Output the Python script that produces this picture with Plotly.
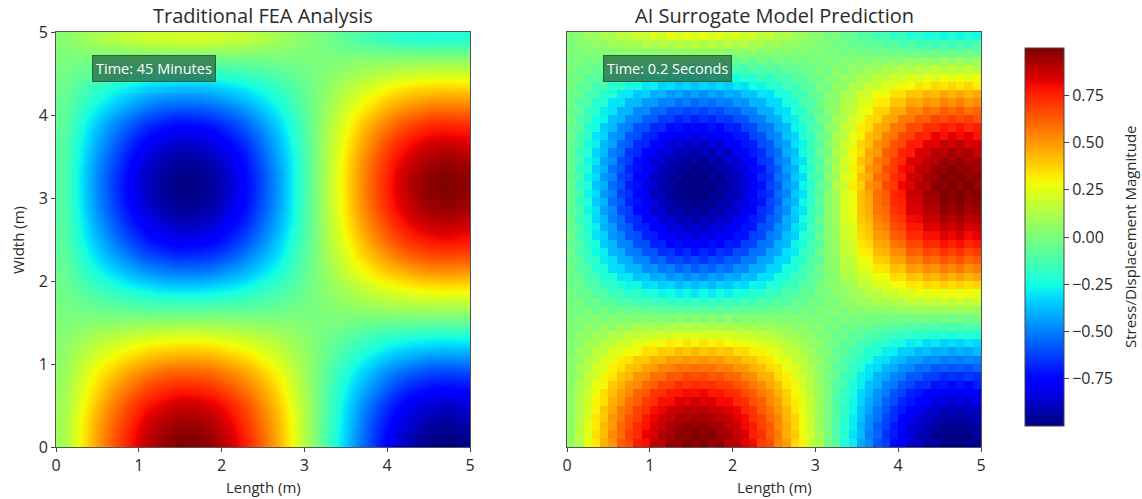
import plotly.graph_objects as go

# Cell centres (m): the FEA table is read at 0.2 m spacing, the AI table at 0.1 m
length_fea = [0.1,0.3,0.5,0.7,0.9,1.1,1.3,1.5,1.7,1.9,2.1,2.3,2.5,2.7,2.9,3.1,3.3,3.5,3.7,3.9,4.1,4.3,4.5,4.7,4.9]
width_fea = list(length_fea)
length_ai = [0.05,0.15,0.25,0.35,0.45,0.55,0.65,0.75,0.85,0.95,1.05,1.15,1.25,1.35,1.45,1.55,1.65,1.75,1.85,1.95,2.05,2.15,2.25,2.35,2.45,
             2.55,2.65,2.75,2.85,2.95,3.05,3.15,3.25,3.35,3.45,3.55,3.65,3.75,3.85,3.95,4.05,4.15,4.25,4.35,4.45,4.55,4.65,4.75,4.85,4.95]
width_ai = list(length_ai)

# Values in hundredths; rows run upward from width 0
fea_values = [
[10,30,48,64,78,89,96,100,99,95,86,75,60,43,24,4,-16,-35,-53,-69,-82,-92,-98,-100,-98],
[10,29,46,61,74,85,91,95,94,90,82,71,57,41,23,4,-15,-33,-50,-66,-78,-87,-93,-95,-93],
[9,26,42,56,69,78,84,88,87,84,76,66,53,38,21,4,-14,-31,-47,-61,-72,-81,-86,-88,-86],
[8,23,36,49,59,68,73,76,75,72,65,57,46,33,18,3,-12,-27,-40,-52,-62,-70,-74,-76,-74],
[6,19,30,40,48,55,60,62,61,59,53,47,37,27,15,2,-10,-22,-33,-43,-51,-57,-61,-62,-61],
[5,14,22,29,35,40,43,45,45,43,39,34,27,19,11,2,-7,-16,-24,-31,-37,-41,-44,-45,-44],
[3,8,13,17,21,24,26,27,27,26,23,20,16,12,6,1,-4,-9,-14,-19,-22,-25,-26,-27,-26],
[1,2,3,4,5,6,7,7,7,7,6,5,4,3,2,0,-1,-2,-4,-5,-6,-6,-7,-7,-7],
[-1,-4,-6,-8,-10,-12,-12,-13,-13,-12,-11,-10,-8,-6,-3,-1,2,5,7,9,11,12,13,13,13],
[-3,-10,-15,-20,-25,-28,-31,-32,-32,-30,-28,-24,-19,-14,-8,-1,5,11,17,22,26,29,31,32,31],
[-5,-15,-24,-32,-39,-45,-48,-50,-50,-48,-43,-38,-30,-22,-12,-2,8,18,27,35,41,46,49,50,49],
[-7,-20,-32,-43,-52,-60,-64,-67,-66,-64,-58,-50,-40,-29,-16,-3,11,23,36,46,55,62,66,67,66],
[-8,-24,-38,-51,-62,-71,-77,-80,-79,-76,-69,-60,-48,-34,-19,-3,13,28,42,55,66,74,78,80,78],
[-9,-27,-43,-58,-70,-80,-86,-90,-89,-86,-77,-68,-54,-39,-22,-4,14,32,48,62,74,83,88,90,88],
[-10,-29,-47,-62,-76,-86,-93,-97,-96,-92,-83,-73,-58,-42,-23,-4,16,34,51,67,80,89,95,97,95],
[-10,-30,-48,-64,-78,-89,-96,-100,-99,-95,-86,-75,-60,-43,-24,-4,16,35,53,69,82,92,98,100,98],
[-10,-30,-48,-63,-77,-88,-95,-99,-98,-94,-85,-74,-59,-43,-24,-4,16,35,52,68,81,91,97,99,97],
[-9,-28,-45,-60,-73,-84,-90,-94,-93,-89,-81,-71,-56,-40,-23,-4,15,33,50,65,77,86,92,94,92],
[-9,-26,-41,-54,-66,-76,-82,-85,-84,-81,-73,-64,-51,-37,-20,-3,14,30,45,59,70,78,83,85,83],
[-7,-22,-35,-47,-57,-65,-70,-73,-72,-69,-63,-55,-44,-31,-18,-3,12,26,39,50,60,67,72,73,72],
[-6,-17,-27,-36,-44,-51,-55,-57,-56,-54,-49,-43,-34,-25,-14,-2,9,20,30,39,47,52,56,57,56],
[-4,-12,-19,-26,-31,-36,-38,-40,-40,-38,-34,-30,-24,-17,-10,-2,6,14,21,28,33,37,39,40,39],
[-2,-6,-10,-13,-16,-19,-20,-21,-21,-20,-18,-16,-13,-9,-5,-1,3,7,11,14,17,19,21,21,21],
[0,0,0,-1,-1,-1,-1,-1,-1,-1,-1,-1,-1,0,0,0,0,0,1,1,1,1,1,1,1],
[3,7,11,14,17,19,20,21,21,20,18,16,13,9,5,1,-3,-8,-12,-15,-18,-20,-21,-21,-21],
]

ai_values = [
[6,13,27,32,45,50,63,66,77,79,89,89,97,96,100,98,100,96,98,91,91,82,80,69,66,54,49,36,31,17,11,-3,-9,-23,-28,-42,-47,-59,-63,-74,-77,-87,-88,-95,-95,-100,-98,-100,-97,-99],
[4,16,24,35,42,53,59,69,73,82,85,92,93,98,97,100,98,99,94,93,87,85,76,72,62,57,45,39,27,20,8,0,-12,-20,-31,-38,-50,-55,-66,-70,-80,-83,-90,-91,-97,-97,-99,-98,-99,-95],
[6,14,25,32,43,49,60,65,74,78,85,87,93,94,97,96,98,94,94,89,87,80,77,68,63,53,46,36,29,17,9,-2,-10,-22,-28,-40,-47,-57,-62,-71,-76,-84,-86,-92,-93,-97,-96,-98,-95,-95],
[3,15,22,33,39,50,56,65,69,77,81,87,88,93,92,95,93,93,89,88,83,80,72,68,59,54,43,37,26,19,7,0,-11,-19,-29,-36,-47,-52,-62,-66,-75,-79,-86,-86,-92,-92,-95,-93,-94,-90],
[5,12,23,30,40,46,56,60,69,72,79,81,87,87,90,89,91,87,87,83,81,75,71,63,58,50,43,33,27,16,9,-2,-9,-20,-26,-37,-43,-52,-58,-66,-70,-78,-80,-85,-86,-91,-89,-92,-88,-89],
[3,14,20,30,35,45,50,59,62,70,72,79,79,85,82,87,83,85,80,80,74,73,65,62,53,49,39,33,24,17,7,0,-10,-17,-26,-33,-42,-47,-56,-60,-68,-71,-78,-77,-84,-82,-87,-83,-86,-81],
[5,11,21,26,35,41,49,53,61,64,71,72,77,77,80,79,81,77,78,73,72,66,63,56,52,44,38,30,24,14,8,-2,-8,-18,-23,-33,-38,-47,-51,-59,-62,-69,-71,-76,-76,-81,-79,-82,-78,-79],
[2,12,17,26,30,39,43,51,53,60,62,68,68,73,71,74,72,73,69,69,64,62,56,53,46,42,33,29,20,15,6,0,-9,-14,-23,-28,-37,-40,-49,-51,-59,-61,-67,-66,-72,-71,-74,-71,-74,-69],
[4,9,18,21,30,33,41,43,51,52,59,58,64,63,67,65,67,63,65,60,60,54,53,45,44,36,32,24,20,12,7,-2,-6,-15,-19,-28,-31,-39,-42,-49,-51,-58,-58,-63,-63,-67,-65,-67,-64,-66],
[2,10,13,21,24,31,34,41,42,48,49,54,54,58,56,59,57,58,54,55,50,50,44,42,36,34,26,23,16,12,4,0,-7,-11,-18,-22,-30,-32,-39,-41,-47,-48,-54,-53,-58,-56,-59,-57,-59,-55],
[4,6,14,16,23,25,32,33,39,39,45,44,49,48,51,49,51,48,50,45,46,41,40,35,33,27,25,18,16,9,6,-2,-4,-12,-14,-21,-23,-30,-31,-37,-38,-44,-44,-48,-47,-51,-49,-51,-48,-50],
[1,7,9,15,16,23,24,29,29,35,34,39,37,42,39,43,39,42,38,40,35,36,31,31,25,24,18,17,11,9,3,1,-6,-8,-14,-15,-22,-22,-28,-28,-34,-34,-39,-37,-41,-39,-43,-40,-42,-38],
[3,3,10,9,15,15,21,20,26,24,30,27,32,30,34,30,34,30,33,28,30,25,27,21,22,17,16,11,10,5,4,-2,-2,-8,-8,-14,-14,-20,-19,-25,-24,-29,-27,-32,-29,-34,-31,-34,-30,-33],
[-1,5,4,9,8,13,12,17,15,19,18,21,20,23,21,24,21,23,20,22,19,20,16,17,13,14,9,10,5,6,1,1,-4,-3,-8,-7,-12,-11,-16,-14,-19,-17,-21,-19,-23,-20,-24,-21,-23,-20],
[2,0,5,2,7,4,9,6,11,8,12,10,13,11,14,11,14,11,13,10,12,9,11,7,9,5,7,3,5,1,3,-2,0,-4,-2,-6,-4,-8,-6,-10,-8,-12,-9,-13,-10,-14,-11,-14,-10,-13],
[-1,2,-1,3,-1,3,0,3,0,3,0,3,0,4,0,4,0,4,0,4,0,3,0,3,0,3,0,3,-1,2,-1,1,-2,1,-2,1,-2,0,-3,0,-3,0,-3,0,-3,0,-4,0,-4,0],
[1,-3,0,-5,-1,-6,-3,-7,-4,-8,-5,-9,-6,-9,-6,-10,-6,-9,-6,-9,-5,-8,-5,-7,-3,-6,-2,-5,0,-3,1,-1,2,0,4,1,5,3,6,4,8,5,9,6,9,6,10,6,9,6],
[-3,-1,-6,-4,-9,-8,-12,-11,-15,-13,-17,-15,-19,-16,-20,-16,-20,-16,-19,-15,-18,-13,-16,-11,-13,-8,-10,-5,-7,-2,-3,2,0,5,4,9,7,12,10,14,13,17,15,19,16,20,16,20,16,19],
[0,-6,-5,-11,-10,-16,-15,-21,-19,-24,-22,-27,-25,-29,-26,-30,-26,-29,-25,-28,-23,-25,-20,-21,-16,-17,-11,-12,-6,-7,-1,-1,4,4,10,9,15,14,20,18,24,22,27,24,29,26,30,26,29,25],
[-3,-4,-11,-11,-18,-18,-24,-27,-26,-32,-30,-35,-33,-38,-35,-38,-35,-38,-34,-36,-31,-33,-27,-28,-22,-22,-16,-16,-9,-9,-2,2,3,9,10,16,17,23,23,28,28,33,32,36,35,38,35,38,35,37],
[-4,-5,-14,-14,-22,-22,-30,-29,-37,-35,-42,-40,-46,-43,-48,-44,-48,-43,-46,-41,-43,-37,-38,-31,-31,-24,-24,-15,-15,-7,-6,2,3,12,12,20,21,28,28,35,34,41,39,45,43,48,44,48,44,47],
[-1,-10,-12,-21,-22,-31,-32,-39,-39,-47,-46,-52,-50,-56,-52,-57,-53,-56,-51,-53,-47,-48,-41,-41,-33,-33,-24,-23,-14,-12,-3,3,4,14,15,24,25,33,34,42,41,49,48,53,51,56,53,57,52,55],
[-5,-7,-18,-19,-29,-31,-40,-41,-49,-49,-57,-55,-62,-60,-64,-61,-65,-60,-62,-57,-58,-51,-51,-43,-42,-33,-32,-22,-20,-10,-8,3,5,15,17,27,29,38,39,47,48,56,55,61,59,64,61,65,60,63],
[-2,-13,-16,-26,-28,-38,-41,-50,-51,-59,-59,-66,-65,-71,-67,-72,-68,-71,-65,-67,-60,-61,-53,-52,-43,-41,-31,-29,-18,-15,-4,3,6,17,19,30,32,42,44,52,53,62,61,67,66,71,68,72,67,70],
[-6,-10,-21,-24,-35,-38,-49,-50,-60,-60,-69,-68,-75,-73,-78,-75,-79,-73,-76,-70,-71,-63,-62,-53,-51,-41,-38,-27,-24,-13,-9,3,6,18,21,33,36,46,48,57,59,67,67,74,73,78,75,79,74,77],
[-2,-14,-19,-30,-34,-45,-49,-58,-60,-69,-70,-78,-77,-83,-80,-85,-81,-83,-78,-79,-72,-72,-63,-61,-51,-48,-37,-34,-22,-18,-5,3,7,19,23,35,39,49,52,62,64,73,73,79,79,84,81,85,80,83],
[-6,-11,-24,-28,-40,-44,-56,-58,-68,-69,-79,-78,-86,-84,-89,-86,-90,-84,-86,-80,-80,-72,-71,-60,-58,-47,-43,-31,-28,-15,-10,3,8,20,24,37,41,52,55,65,68,77,77,84,83,89,86,90,85,87],
[-3,-16,-21,-33,-38,-50,-54,-65,-67,-77,-78,-86,-85,-92,-89,-94,-90,-92,-86,-88,-80,-79,-70,-67,-57,-54,-41,-37,-25,-19,-6,3,8,21,26,39,43,54,58,68,71,80,81,88,87,93,90,94,89,91],
[-7,-12,-26,-31,-43,-48,-61,-63,-74,-76,-86,-85,-93,-92,-97,-94,-98,-92,-94,-87,-87,-79,-77,-66,-63,-52,-47,-34,-30,-16,-11,3,9,22,27,40,45,57,60,71,74,84,84,91,91,97,94,98,93,95],
[-3,-17,-23,-35,-40,-53,-58,-69,-72,-81,-83,-91,-91,-98,-95,-100,-96,-98,-92,-93,-85,-84,-74,-72,-61,-57,-44,-39,-26,-21,-7,3,9,23,27,41,46,58,62,73,75,85,86,93,93,99,96,100,95,97],
[-7,-13,-27,-32,-45,-50,-63,-66,-77,-79,-89,-89,-97,-96,-100,-98,-100,-96,-98,-91,-91,-82,-80,-69,-66,-54,-49,-36,-31,-17,-11,3,9,23,28,42,47,59,63,74,77,87,88,95,95,100,98,100,97,99],
[-3,-17,-23,-36,-41,-54,-59,-70,-73,-83,-85,-93,-93,-100,-97,-100,-98,-100,-94,-95,-87,-86,-76,-73,-62,-58,-45,-40,-27,-21,-7,-1,13,19,32,38,51,55,67,70,81,83,92,91,99,97,100,96,100,95],
[-7,-13,-27,-32,-45,-49,-62,-65,-76,-78,-88,-88,-96,-95,-100,-97,-100,-95,-97,-90,-90,-81,-79,-68,-65,-53,-48,-36,-31,-16,-11,3,9,23,28,42,46,59,62,73,76,86,87,94,94,100,97,100,96,98],
[-3,-17,-23,-35,-40,-53,-58,-69,-72,-81,-83,-91,-91,-98,-95,-100,-96,-98,-92,-93,-85,-84,-74,-72,-61,-57,-44,-39,-26,-21,-7,-1,13,19,31,37,50,54,66,69,79,81,90,89,97,95,100,96,98,93],
[-7,-12,-26,-30,-43,-47,-60,-63,-73,-75,-85,-84,-92,-91,-96,-93,-97,-91,-93,-86,-87,-78,-76,-65,-63,-51,-47,-34,-30,-16,-11,3,8,22,27,40,45,56,60,70,73,83,84,90,90,96,93,97,92,94],
[-3,-16,-21,-33,-38,-50,-54,-65,-67,-77,-78,-86,-85,-92,-89,-94,-90,-92,-86,-88,-80,-79,-70,-67,-57,-54,-41,-37,-25,-19,-6,-1,12,17,30,35,47,50,62,64,75,76,85,84,91,89,94,90,93,87],
[-6,-11,-24,-28,-39,-43,-55,-57,-67,-68,-78,-77,-85,-83,-88,-85,-89,-83,-86,-79,-79,-71,-70,-60,-58,-47,-43,-31,-27,-15,-10,3,8,20,24,37,41,52,55,65,67,76,76,83,82,88,85,89,84,86],
[-2,-14,-19,-30,-33,-45,-48,-58,-60,-68,-69,-77,-76,-82,-79,-84,-80,-82,-77,-78,-71,-71,-62,-60,-50,-48,-37,-33,-22,-18,-5,-1,11,15,27,31,42,45,55,57,67,68,76,74,82,79,84,80,83,78],
[-6,-9,-21,-24,-35,-38,-48,-50,-59,-60,-68,-67,-74,-72,-77,-74,-78,-72,-75,-69,-70,-62,-61,-52,-51,-41,-38,-27,-24,-12,-9,3,6,18,21,32,35,45,47,57,58,67,66,73,72,77,74,78,73,76],
[-1,-12,-15,-25,-27,-37,-39,-48,-49,-57,-57,-64,-63,-69,-65,-70,-66,-69,-63,-65,-59,-59,-51,-50,-42,-40,-30,-28,-18,-15,-4,-1,9,12,22,25,35,37,46,47,56,56,63,61,68,65,70,66,69,64],
[-5,-7,-17,-19,-28,-30,-39,-39,-48,-47,-55,-54,-60,-58,-62,-59,-63,-58,-61,-55,-56,-49,-50,-41,-41,-32,-31,-21,-20,-10,-7,3,5,15,16,26,28,37,38,46,46,54,53,59,57,62,59,63,58,61],
[-1,-10,-11,-20,-21,-30,-30,-38,-38,-45,-44,-50,-48,-54,-50,-55,-51,-54,-49,-51,-45,-47,-39,-40,-32,-32,-23,-22,-13,-12,-3,3,4,13,14,23,24,32,32,40,40,47,46,51,49,54,51,55,50,53],
[-4,-5,-13,-13,-21,-21,-29,-29,-36,-34,-41,-39,-45,-42,-47,-43,-47,-42,-45,-40,-42,-36,-37,-30,-31,-23,-23,-15,-15,-7,-6,2,3,11,12,20,20,28,27,34,34,40,39,44,42,47,43,47,43,46],
[0,-7,-7,-14,-13,-20,-19,-26,-24,-30,-28,-34,-31,-36,-33,-37,-33,-36,-32,-35,-29,-31,-25,-27,-20,-22,-14,-15,-8,-9,-1,-2,6,5,13,12,19,18,25,23,30,28,34,31,36,33,37,33,37,32],
[-3,-2,-9,-7,-13,-12,-18,-16,-22,-19,-25,-22,-27,-23,-28,-24,-28,-23,-27,-22,-25,-20,-22,-16,-19,-13,-14,-8,-10,-3,-4,2,1,7,6,12,11,17,15,21,19,24,21,26,23,28,24,28,24,27],
[1,-4,-2,-7,-5,-10,-8,-13,-10,-15,-12,-17,-13,-18,-14,-18,-14,-18,-13,-17,-12,-15,-10,-13,-8,-11,-6,-8,-3,-5,1,-2,4,1,7,4,10,7,12,10,15,12,16,13,18,14,18,14,18,14],
[-2,1,-3,0,-4,-1,-5,-2,-6,-3,-7,-3,-7,-4,-8,-4,-8,-4,-8,-3,-7,-3,-7,-2,-6,-1,-5,0,-3,1,-2,2,-1,3,0,4,1,5,2,6,3,7,4,7,4,8,4,8,4,8],
[2,-1,3,0,3,1,4,2,5,2,5,2,6,3,6,3,6,3,6,2,5,2,5,1,4,1,3,0,3,-1,2,-2,1,-3,0,-3,-1,-4,-2,-5,-2,-5,-3,-6,-3,-6,-3,-6,-3,-5],
[-1,4,2,6,5,9,7,11,9,13,11,14,12,15,12,16,12,15,12,15,11,13,10,11,7,9,5,7,2,4,0,1,-3,-1,-6,-4,-8,-6,-10,-8,-13,-10,-14,-12,-15,-12,-16,-12,-15,-12],
[3,2,8,6,12,11,16,15,20,18,23,20,25,22,26,22,26,22,25,21,23,19,20,15,17,12,13,8,9,3,4,-2,0,-6,-5,-11,-10,-15,-14,-19,-17,-22,-20,-24,-22,-26,-22,-26,-22,-25],
]
assert len(ai_values) == 50 and all(len(r) == 50 for r in ai_values), [i for i, r in enumerate(ai_values) if len(r) != 50]

titles = ["Traditional FEA Analysis", "AI Surrogate Model Prediction"]
badges = ["Time: 45 Minutes", "Time: 0.2 Seconds"]
colorbar_ticks = [-0.75, -0.5, -0.25, 0, 0.25, 0.5, 0.75]
colorbar_labels = ["\u22120.75", "\u22120.50", "\u22120.25", "0.00", "0.25", "0.50", "0.75"]

W, H = 1142, 499
L, R, T, B = 56, 981, 32, 447   # plot-area box in page pixels
PW, PH = R - L, B - T
FONT = "Open Sans"
INK = "#2b2b2b"
jet = [[0,"rgb(0,0,127)"],[0.11,"rgb(0,0,255)"],[0.125,"rgb(0,0,255)"],[0.34,"rgb(0,219,255)"],
       [0.375,"rgb(20,255,226)"],[0.64,"rgb(239,255,8)"],[0.66,"rgb(255,236,0)"],
       [0.89,"rgb(255,19,0)"],[0.91,"rgb(232,0,0)"],[1,"rgb(127,0,0)"]]

def to_unit(rows):
    return [[v / 100 for v in r] for r in rows]

def px(x):
    return (x - L) / PW

def py(y):
    return 1 - (y - T) / PH

fig = go.Figure()
fig.add_trace(go.Heatmap(x=length_fea, y=width_fea, z=to_unit(fea_values), coloraxis="coloraxis",
                         zsmooth="best", xaxis="x", yaxis="y"))
fig.add_trace(go.Heatmap(x=length_ai, y=width_ai, z=to_unit(ai_values), coloraxis="coloraxis",
                         xaxis="x2", yaxis="y2"))

axis_common = dict(range=[0, 5], tickmode="array", tickvals=[0,1,2,3,4,5], ticks="outside", ticklen=4,
                   tickcolor="#444", tickwidth=1, showline=True, mirror=True, linecolor="#555", linewidth=1,
                   showgrid=False, zeroline=False, automargin=False,
                   tickfont=dict(size=16, color=INK, family=FONT))

fig.update_layout(
    width=W, height=H, autosize=False, margin=dict(l=L, r=W-R, t=T, b=H-B),
    paper_bgcolor="white", plot_bgcolor="white", font=dict(family=FONT, color=INK),
    xaxis=dict(domain=[px(56), px(470)], anchor="y", **axis_common),
    yaxis=dict(domain=[0, 1], anchor="x", **axis_common),
    xaxis2=dict(domain=[px(567), px(981)], anchor="y2", **axis_common),
    yaxis2=dict(domain=[0, 1], anchor="x2", **{**axis_common, "ticks": "", "showticklabels": False}),
    coloraxis=dict(cmin=-1, cmax=1, colorscale=jet, colorbar=dict(
        x=px(1025), xanchor="left", y=py(48), yanchor="top", lenmode="pixels", len=378,
        thicknessmode="pixels", thickness=39, outlinecolor="#444", outlinewidth=1,
        tickmode="array", tickvals=colorbar_ticks, ticktext=colorbar_labels, ticks="outside", ticklen=5,
        tickcolor="#444", tickfont=dict(size=16, color=INK, family=FONT), xpad=0, ypad=0)),
)

def note(x, y, text, size, angle=0):
    fig.add_annotation(xref="paper", yref="paper", x=px(x), y=py(y), text=text, showarrow=False,
                       xanchor="center", yanchor="middle", textangle=angle,
                       font=dict(size=size, color=INK, family=FONT))

note(263, 16, titles[0], 20)
note(774, 16, titles[1], 20)
note(263, 487, "Length (m)", 15)
note(774, 487, "Length (m)", 15)
note(18, 240, "Width (m)", 15, -90)
note(1130, 237, "Stress/Displacement Magnitude", 15, -90)

for xr, yr, t in zip(["x", "x2"], ["y", "y2"], badges):
    fig.add_annotation(xref=xr, yref=yr, x=0.43, y=4.56, text=t, showarrow=False, xanchor="left", yanchor="middle",
                       font=dict(size=14.5, color="white", family=FONT), bgcolor="rgba(46,100,70,0.75)",
                       bordercolor="rgba(30,90,50,0.9)", borderwidth=1, borderpad=3)

fig.write_html("out.html", config={"displayModeBar": False},
               post_script="document.body.style.margin='0';document.documentElement.style.overflow='hidden';")
